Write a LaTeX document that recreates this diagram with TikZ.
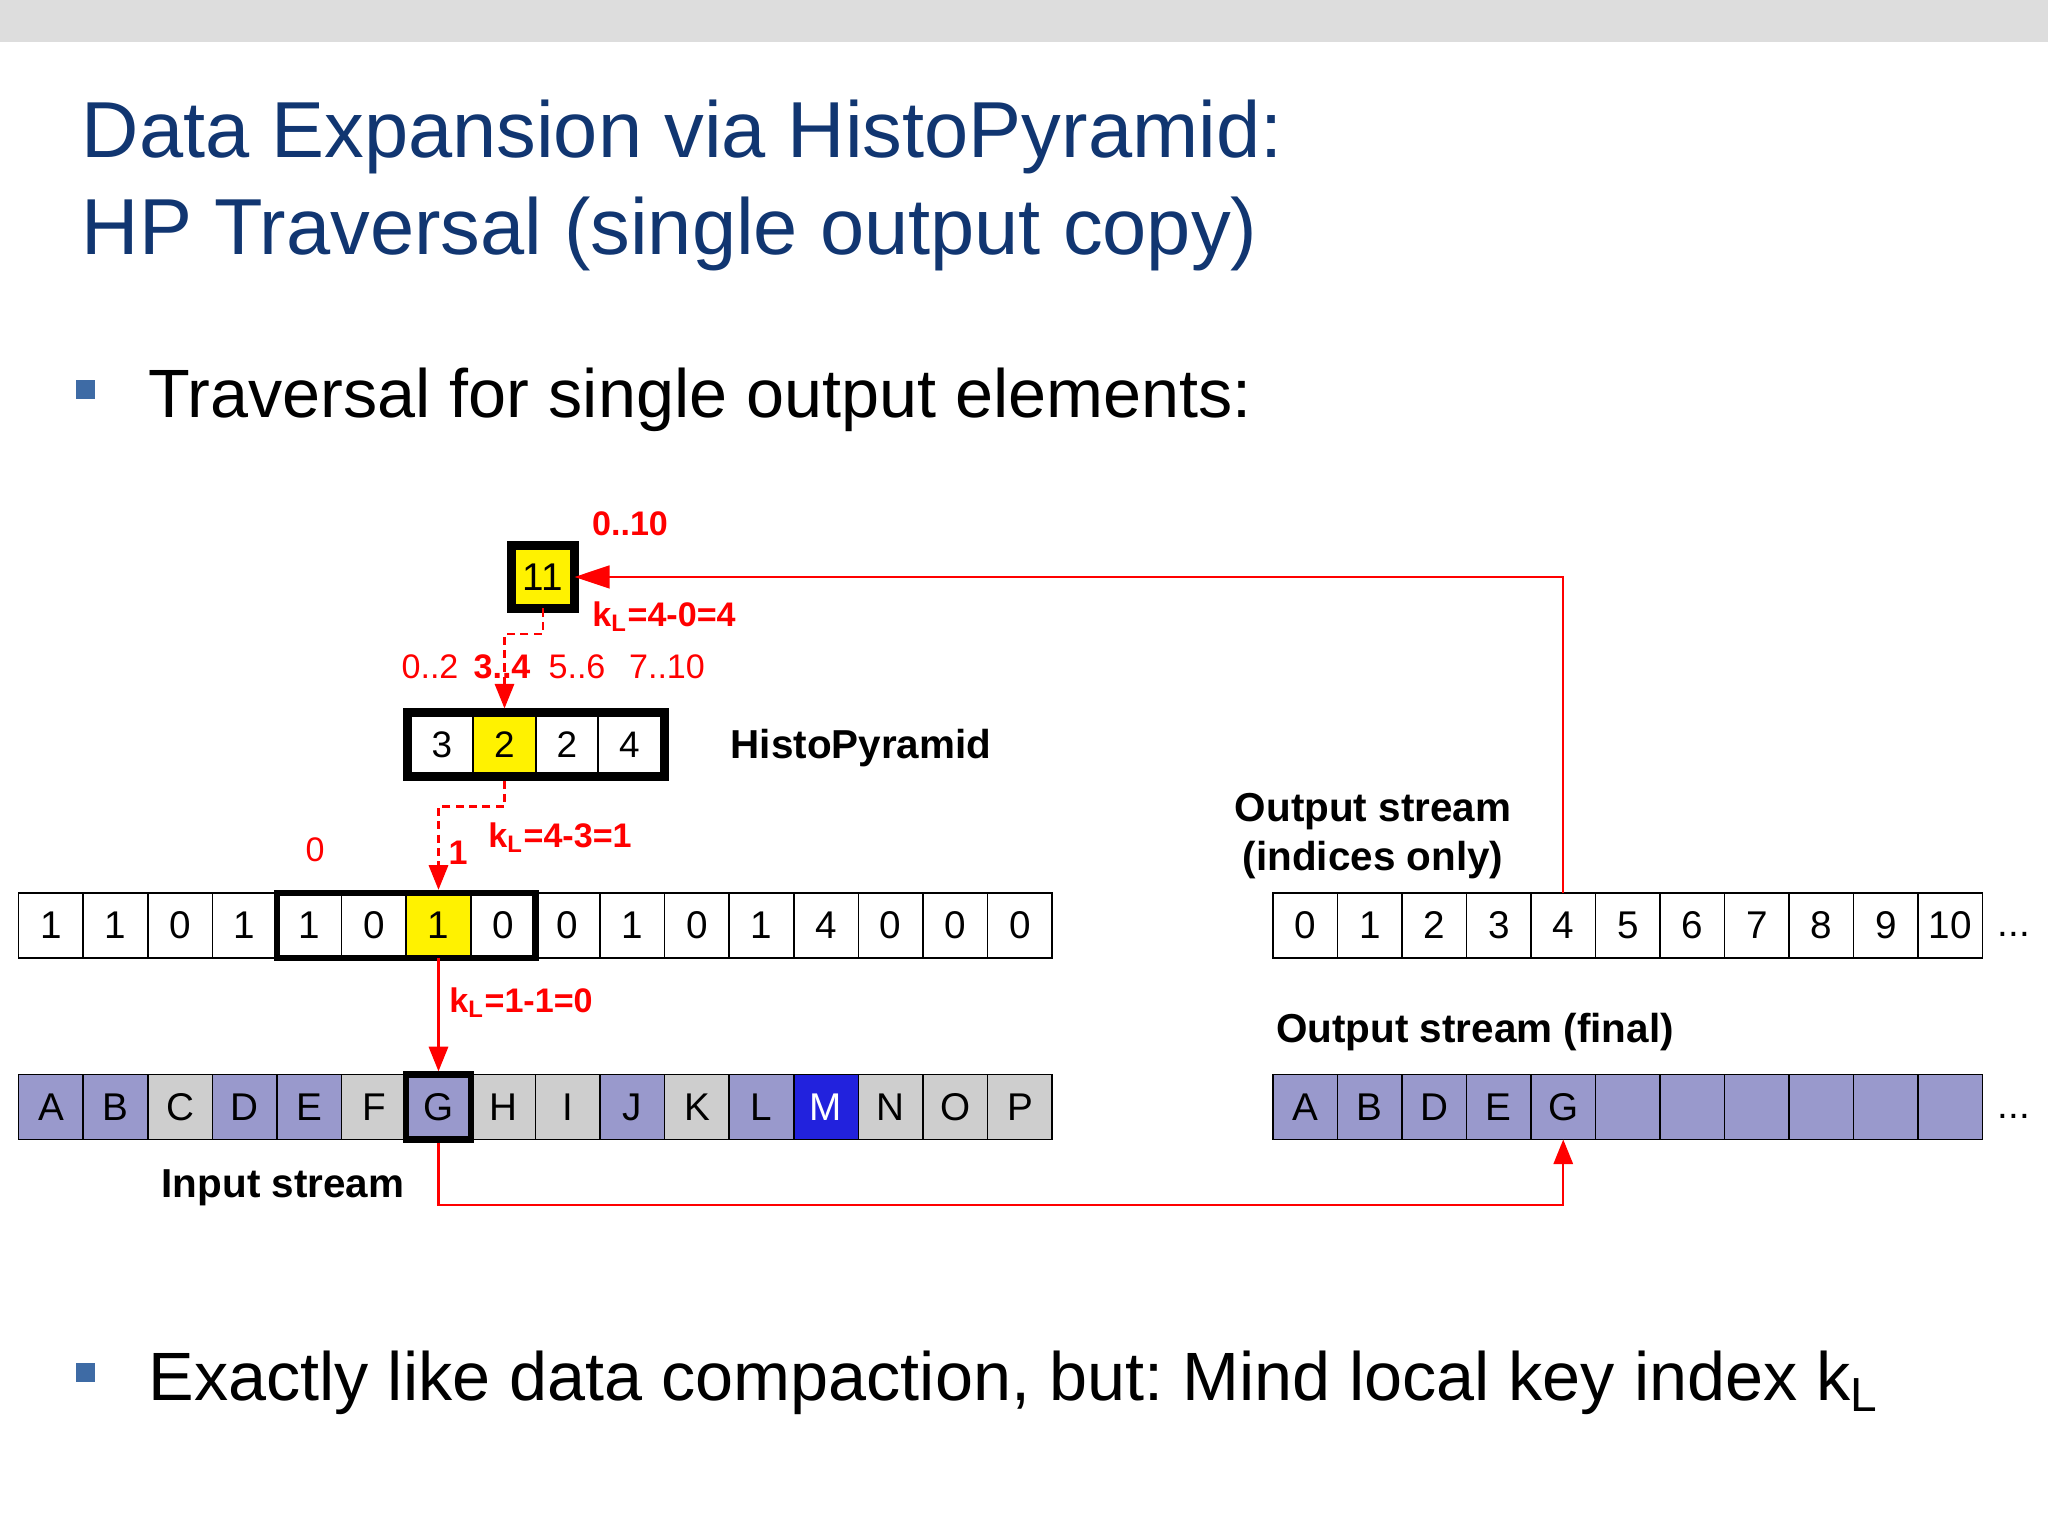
\documentclass[tikz,border=0pt]{standalone}
\usepackage{fontspec}
\setmainfont{Liberation Sans}
\usepackage{tikz}
\usetikzlibrary{arrows.meta,positioning,fit}
\frenchspacing

\definecolor{titleblue}{RGB}{17,54,113}
\definecolor{bulletblue}{RGB}{62,107,165}
\definecolor{bandgray}{RGB}{221,221,221}
\definecolor{cellpurple}{RGB}{153,153,204}
\definecolor{cellgray}{RGB}{206,206,206}
\definecolor{cellblue}{RGB}{34,34,221}

\tikzset{
  cell/.style={draw, line width=0.5pt, minimum width=0.646cm, minimum height=0.65cm,
    inner sep=0pt, outer sep=0pt, font=\fontsize{11}{13}\selectfont},
  hpcell/.style={cell, minimum width=0.625cm, minimum height=0.56cm, font=\fontsize{10.5}{12}\selectfont},
  selframe/.style={draw, line width=1.8pt, inner sep=0pt},
  hpframe/.style={draw, line width=2.3pt, inner sep=0.04cm},
  redlabel/.style={text=red, inner sep=0pt, font=\fontsize{9.7}{11}\selectfont},
  redbold/.style={text=red, inner sep=0pt, font=\fontsize{9.7}{11}\selectfont\bfseries},
  blacklabel/.style={inner sep=0pt, font=\fontsize{11.5}{14}\selectfont\bfseries},
  redline/.style={draw=red, line width=0.6pt},
  dashline/.style={redline, dash pattern=on 2.3pt off 1.5pt},
  redtip/.style={-{Triangle[length=7pt,width=5.5pt]}},
  bigtip/.style={-{Triangle[length=10pt,width=6.5pt]}},
  bulletsq/.style={fill=bulletblue, minimum size=0.19cm, inner sep=0pt}
}

\begin{document}
\begin{tikzpicture}[scale=1]
    \useasboundingbox (0,0) rectangle (20.48,15.36);
    \fill[white] (0,0) rectangle (20.48,15.36);
    \fill[bandgray] (0,14.94) rectangle (20.48,15.36);

    % title and bullets
    \node [anchor=base west, inner sep=0pt, text=titleblue, font=\fontsize{22.6}{27}\selectfont] (title1) at (0.81,13.78) {Data Expansion via HistoPyramid:};
    \node [anchor=base west, inner sep=0pt, text=titleblue, font=\fontsize{22.6}{27}\selectfont] (title2) at (0.81,12.81) {HP Traversal (single output copy)};
    \node [bulletsq] (b1) at (0.855,11.46) {};
    \node [anchor=base west, inner sep=0pt, font=\fontsize{19.45}{23}\selectfont] (item1) at (1.48,11.18) {Traversal for single output elements:};
    \node [bulletsq] (b2) at (0.855,1.63) {};
    \node [anchor=base west, inner sep=0pt, font=\fontsize{19.45}{23}\selectfont] (item2) at (1.48,1.35) {Exactly like data compaction, but: Mind local key index k\textsubscript{L}};

    % pyramid top and level 1
    \node [cell, fill=yellow, line width=2.3pt, minimum width=0.63cm, minimum height=0.63cm] (top) at (5.43,9.59) {11};
    \foreach \v/\c [count=\i] in {3/white,2/yellow,2/white,4/white}
        \node [hpcell, fill=\c] (h\i) at ({4.42+0.625*(\i-1)},7.915) {\v};
    \node [hpframe, fit=(h1)(h4)] (hp) {};

    % level 0
    \foreach \v/\c [count=\i] in {1/white,1/white,0/white,1/white,1/white,0/white,1/yellow,0/white,0/white,1/white,0/white,1/white,4/white,0/white,0/white,0/white}
        \node [cell, fill=\c] (c\i) at ({0.186+0.646*(\i-0.5)},6.105) {\v};
    \node [selframe, fit=(c5)(c8)] (grp) {};

    % input stream
    \foreach \t/\c [count=\i] in {A/cellpurple,B/cellpurple,C/cellgray,D/cellpurple,E/cellpurple,F/cellgray,G/cellpurple,H/cellgray,I/cellgray,J/cellpurple,K/cellgray,L/cellpurple,\textcolor{white}{M}/cellblue,N/cellgray,O/cellgray,P/cellgray}
        \node [cell, fill=\c] (in\i) at ({0.186+0.646*(\i-0.5)},4.29) {\t};
    \node [selframe, fit=(in7)] (gsel) {};

    % output streams
    \foreach \v [count=\i] in {0,...,10}
        \node [cell, fill=white] (o\i) at ({12.73+0.645*(\i-0.5)},6.105) {\v};
    \foreach \t [count=\i] in {A,B,D,E,G,{},{},{},{},{},{}}
        \node [cell, fill=cellpurple] (f\i) at ({12.73+0.645*(\i-0.5)},4.29) {\t};
    \node [anchor=base, inner sep=0pt, font=\fontsize{11}{13}\selectfont] (dots1) at (20.14,5.99) {...};
    \node [anchor=base, inner sep=0pt, font=\fontsize{11}{13}\selectfont] (dots2) at (20.14,4.17) {...};

    % labels
    \node [redbold] (r010) at (6.30,10.12) {0..10};
    \node [redbold] (k1) at (6.64,9.19) {k\textsubscript{L}=4-0=4};
    \node [redlabel] (r02) at (4.30,8.69) {0..2};
    \node [redbold] (r34) at (5.02,8.69) {3..4};
    \node [redlabel] (r56) at (5.77,8.69) {5..6};
    \node [redlabel] (r710) at (6.67,8.69) {7..10};
    \node [blacklabel] (hplabel) at (8.61,7.88) {HistoPyramid};
    \node [redbold] (k2) at (5.60,6.98) {k\textsubscript{L}=4-3=1};
    \node [redbold] (r1) at (4.58,6.83) {1};
    \node [redlabel] (r0) at (3.15,6.86) {0};
    \node [redbold] (k3) at (5.21,5.33) {k\textsubscript{L}=1-1=0};
    \node [blacklabel] (inlabel) at (2.83,3.48) {Input stream};
    \node [blacklabel, align=center, font=\fontsize{11.5}{14}\selectfont\bfseries] (outlabel) at (13.73,6.995) {Output stream\\(indices only)};
    \node [blacklabel] (finlabel) at (14.75,5.04) {Output stream (final)};

    % traversal connectors
    \draw [dashline, redtip] (top.south) -- ++(0,-0.255) -| (h2 |- hp.north);
    \draw [dashline, redtip] (h2 |- hp.south) -- ++(0,-0.26) -| (c7 |- grp.north);
    \draw [redline, redtip] (c7.south) -- (gsel.north);
    \draw [redline, bigtip] (o5.north) |- (top.east);
    \draw [redline, redtip] (gsel.south) -- ++(0,-0.62) -| (f5.south);
\end{tikzpicture}
\end{document}
